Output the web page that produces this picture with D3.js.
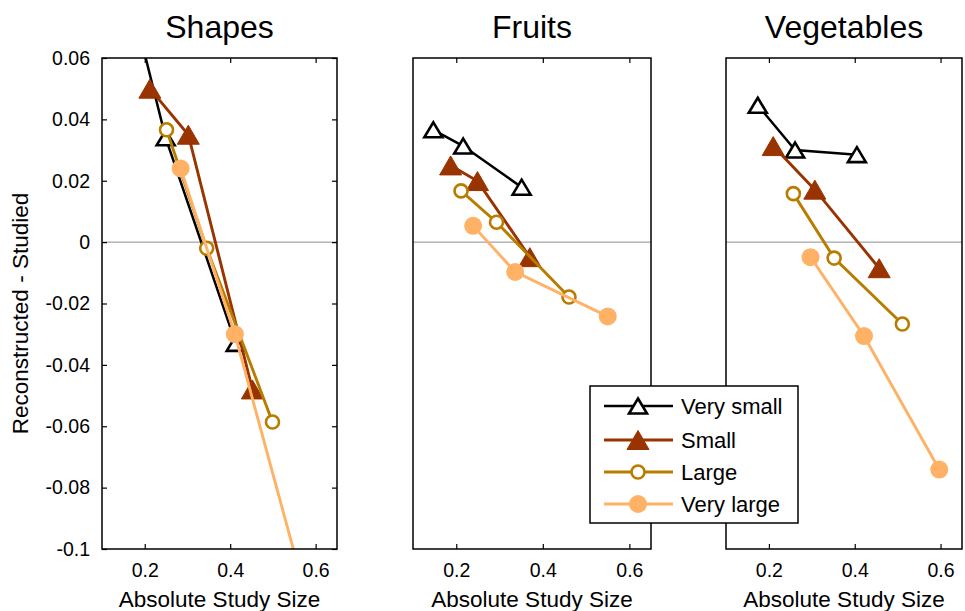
<!DOCTYPE html>
<html>
<head>
<meta charset="utf-8">
<script src="https://cdn.jsdelivr.net/npm/d3@7"></script>
<style>
  html, body { margin: 0; padding: 0; background: #fff; }
  svg { display: block; font-family: "Liberation Sans", Arial, sans-serif; }
</style>
</head>
<body>
<svg id="chart" width="965" height="611"></svg>
<script>
// Conditions (legend order) and panels
const seriesNames = ["Very small", "Small", "Large", "Very large"];
const panelTitles = ["Shapes", "Fruits", "Vegetables"];

// Absolute study size (x) and reconstructed - studied (y), one inner list per condition
const shapesX = [[0.17, 0.249, 0.413], [0.212, 0.302, 0.452], [0.251, 0.345, 0.499], [0.284, 0.411, 0.62]];
const shapesY = [[0.078, 0.034, -0.033], [0.050, 0.035, -0.048], [0.0366, -0.002, -0.0586], [0.024, -0.030, -0.137]];

const fruitsX = [[0.147, 0.216, 0.351], [0.187, 0.249, 0.370], [0.211, 0.293, 0.4605], [0.239, 0.336, 0.550]];
const fruitsY = [[0.0366, 0.0313, 0.0179], [0.025, 0.0199, -0.0049], [0.0167, 0.0065, -0.0179], [0.0053, -0.0097, -0.0242]];

const vegX = [[0.174, 0.261, 0.405], [0.210, 0.307, 0.457], [0.257, 0.352, 0.511], [0.297, 0.4216, 0.597]];
const vegY = [[0.0446, 0.030, 0.0285], [0.0313, 0.0171, -0.0085], [0.0158, -0.0052, -0.0267], [-0.0049, -0.0306, -0.0741]];

const xTicks = [0.2, 0.4, 0.6];
const yTicks = [-0.1, -0.08, -0.06, -0.04, -0.02, 0, 0.02, 0.04, 0.06];
const yTickLabels = ["-0.1", "-0.08", "-0.06", "-0.04", "-0.02", "0", "0.02", "0.04", "0.06"];

const xDomain = [0.1, 0.65];
const yDomain = [-0.1, 0.06];

const panelData = [[shapesX, shapesY], [fruitsX, fruitsY], [vegX, vegY]];

// Styling per condition
const colors = ["#000000", "#993300", "#b87d00", "#ffb266"];
const markerKind = ["openTri", "fillTri", "openCirc", "fillCirc"];

const svg = d3.select("#chart");
const plotTop = 58, plotBottom = 549;
const panelLeft = [102, 413, 726];
const panelWidth = [235, 238, 236];
const tickLen = 5;

function drawMarker(g, kind, color, cx, cy) {
  if (kind === "openTri") {
    const w = 18, h = 15;
    g.append("path")
      .attr("d", `M${cx},${cy - h / 2}L${cx + w / 2},${cy + h / 2}L${cx - w / 2},${cy + h / 2}Z`)
      .attr("fill", "#fff").attr("stroke", color).attr("stroke-width", 2.6)
      .attr("stroke-linejoin", "miter");
  } else if (kind === "fillTri") {
    const w = 22, h = 19;
    g.append("path")
      .attr("d", `M${cx},${cy - h / 2}L${cx + w / 2},${cy + h / 2}L${cx - w / 2},${cy + h / 2}Z`)
      .attr("fill", color).attr("stroke", color).attr("stroke-width", 1);
  } else if (kind === "openCirc") {
    g.append("circle").attr("cx", cx).attr("cy", cy).attr("r", 6.5)
      .attr("fill", "#fff").attr("stroke", color).attr("stroke-width", 2.6);
  } else {
    g.append("circle").attr("cx", cx).attr("cy", cy).attr("r", 9)
      .attr("fill", color);
  }
}

panelTitles.forEach((title, p) => {
  const left = panelLeft[p], width = panelWidth[p];
  const x = d3.scaleLinear().domain(xDomain).range([left, left + width]);
  const y = d3.scaleLinear().domain(yDomain).range([plotBottom, plotTop]);

  const clipId = "clip" + p;
  svg.append("clipPath").attr("id", clipId)
    .append("rect").attr("x", left).attr("y", plotTop)
    .attr("width", width).attr("height", plotBottom - plotTop);

  // plot background
  svg.append("rect").attr("x", left).attr("y", plotTop)
    .attr("width", width).attr("height", plotBottom - plotTop).attr("fill", "#fff");

  // zero reference line
  svg.append("line")
    .attr("x1", left).attr("x2", left + width)
    .attr("y1", y(0)).attr("y2", y(0))
    .attr("stroke", "#8c8c8c").attr("stroke-width", 1);

  const plot = svg.append("g").attr("clip-path", `url(#${clipId})`);
  const [xs, ys] = panelData[p];

  seriesNames.forEach((name, s) => {
    const pts = xs[s].map((v, i) => [v, ys[s][i]]);
    const g = plot.append("g");
    g.append("path")
      .datum(pts)
      .attr("d", d3.line().x(d => x(d[0])).y(d => y(d[1])))
      .attr("fill", "none")
      .attr("stroke", colors[s])
      .attr("stroke-width", s === 0 ? 2.5 : 2.9);
    pts.forEach(d => {
      if (d[1] >= yDomain[0] && d[1] <= yDomain[1]) {
        drawMarker(g, markerKind[s], colors[s], x(d[0]), y(d[1]));
      }
    });
  });

  // axes with inward ticks on both sides
  const xAxisB = d3.axisBottom(x).tickValues(xTicks).tickSizeInner(-tickLen).tickSizeOuter(0)
    .tickFormat(d3.format(".1f")).tickPadding(14);
  const gxb = svg.append("g").attr("transform", `translate(0,${plotBottom})`).call(xAxisB);
  const xAxisT = d3.axisTop(x).tickValues(xTicks).tickSizeInner(-tickLen).tickSizeOuter(0).tickFormat("");
  const gxt = svg.append("g").attr("transform", `translate(0,${plotTop})`).call(xAxisT);
  [gxb, gxt].forEach(g => {
    g.select(".domain").remove();
    g.selectAll(".tick line").attr("stroke", "#000").attr("stroke-width", 1.2);
  });
  gxb.selectAll(".tick text")
    .attr("font-size", 19.5).attr("fill", "#000")
    .attr("font-family", "Liberation Sans, Arial, sans-serif");

  if (p === 0) {
    const yAxisL = d3.axisLeft(y).tickValues(yTicks).tickSizeInner(-tickLen).tickSizeOuter(0)
      .tickFormat((d, i) => yTickLabels[i]).tickPadding(12);
    const gyl = svg.append("g").attr("transform", `translate(${left},0)`).call(yAxisL);
    const yAxisR = d3.axisRight(y).tickValues(yTicks).tickSizeInner(-tickLen).tickSizeOuter(0).tickFormat("");
    const gyr = svg.append("g").attr("transform", `translate(${left + width},0)`).call(yAxisR);
    [gyl, gyr].forEach(g => {
      g.select(".domain").remove();
      g.selectAll(".tick line").attr("stroke", "#000").attr("stroke-width", 1.2);
    });
    gyl.selectAll(".tick text")
      .attr("font-size", 19.5).attr("fill", "#000")
      .attr("font-family", "Liberation Sans, Arial, sans-serif");

    svg.append("text")
      .attr("transform", `translate(28,${(plotTop + plotBottom) / 2 + 10}) rotate(-90)`)
      .attr("text-anchor", "middle")
      .attr("font-size", 22.5)
      .text("Reconstructed - Studied");
  }

  // axes box
  svg.append("rect").attr("x", left).attr("y", plotTop)
    .attr("width", width).attr("height", plotBottom - plotTop)
    .attr("fill", "none").attr("stroke", "#000").attr("stroke-width", 1.5);

  // titles and x labels
  svg.append("text")
    .attr("x", left + width / 2).attr("y", 38)
    .attr("text-anchor", "middle").attr("font-size", 32)
    .text(title);
  svg.append("text")
    .attr("x", left + width / 2).attr("y", 607)
    .attr("text-anchor", "middle").attr("font-size", 22.5)
    .text("Absolute Study Size");
});

// legend
const lg = svg.append("g");
lg.append("rect").attr("x", 590).attr("y", 386).attr("width", 208).attr("height", 137)
  .attr("fill", "#fff").attr("stroke", "#000").attr("stroke-width", 1.5);
const rowY = [406, 440, 472, 504];
seriesNames.forEach((name, s) => {
  lg.append("line").attr("x1", 604).attr("x2", 673)
    .attr("y1", rowY[s]).attr("y2", rowY[s])
    .attr("stroke", colors[s]).attr("stroke-width", s === 0 ? 2.5 : 2.9);
  drawMarker(lg, markerKind[s], colors[s], 638, rowY[s]);
  lg.append("text").attr("x", 681).attr("y", rowY[s] + 8)
    .attr("font-size", 22).text(name);
});
</script>
</body>
</html>
